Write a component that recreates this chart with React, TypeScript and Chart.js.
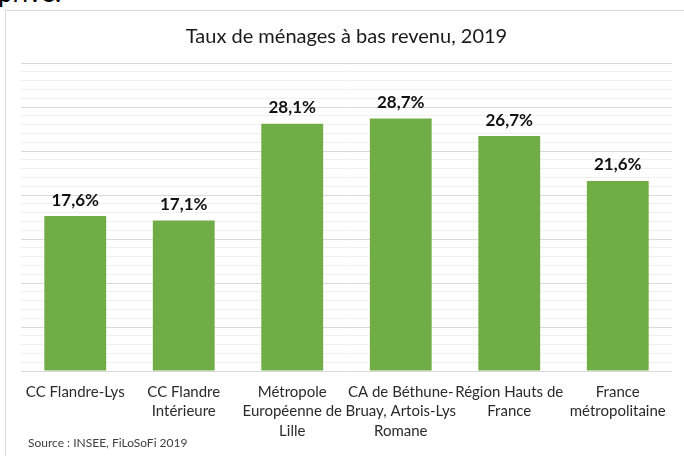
import React, { useEffect, useRef } from "react";
import { Chart, registerables } from "chart.js";

Chart.register(...registerables);

const TITLE = "Taux de ménages à bas revenu, 2019";
const SOURCE = "Source : INSEE, FiLoSoFi 2019";
const CATEGORIES: (string | string[])[] = [
  "CC Flandre-Lys",
  ["CC Flandre", "Intérieure"],
  ["Métropole", "Européenne de", "Lille"],
  ["CA de Béthune-", "Bruay, Artois-Lys", "Romane"],
  ["Région Hauts de", "France"],
  ["France", "métropolitaine"],
];
const VALUES = [17.6, 17.1, 28.1, 28.7, 26.7, 21.6];
const Y_MIN = 0;
const Y_MAX = 35;
const MINOR_STEP = 1;
const MAJOR_STEP = 5;

const FONT = "Lato, 'Open Sans', sans-serif";

const valueLabels = {
  id: "valueLabels",
  afterDatasetsDraw(chart: any) {
    const ctx = chart.ctx;
    const meta = chart.getDatasetMeta(0);
    ctx.save();
    ctx.font = `bold 17px ${FONT}`;
    ctx.fillStyle = "#111";
    ctx.textAlign = "center";
    ctx.textBaseline = "middle";
    meta.data.forEach((bar: any, i: number) => {
      const v = chart.data.datasets[0].data[i] as number;
      ctx.fillText(v.toFixed(1).replace(".", ",") + "%", bar.x, bar.y - 16);
    });
    ctx.restore();
  },
};

export default function App() {
  const ref = useRef<HTMLCanvasElement>(null);
  useEffect(() => {
    if (!ref.current) return;
    const chart = new Chart(ref.current, {
      type: "bar",
      data: {
        labels: CATEGORIES,
        datasets: [
          {
            data: VALUES,
            backgroundColor: "#70ad47",
            barPercentage: 0.57,
            categoryPercentage: 1,
          },
        ],
      },
      options: {
        animation: false,
        responsive: false,
        devicePixelRatio: 1,
        layout: { padding: { left: 21, right: 12, top: 0, bottom: 0 } },
        plugins: {
          legend: { display: false },
          tooltip: { enabled: false },
          title: {
            display: true,
            text: TITLE,
            color: "#1a1a1a",
            font: { family: FONT, size: 20, weight: "normal", lineHeight: 1.2 },
            padding: { top: 25, bottom: 14 },
          },
        },
        scales: {
          x: {
            grid: { display: false, drawTicks: false },
            border: { display: false },
            ticks: {
              color: "#2b2b2b",
              font: { family: FONT, size: 15, lineHeight: 1.3 },
              padding: 11,
              maxRotation: 0,
              autoSkip: false,
            },
            afterFit: (scale: any) => {
              scale.height = 85;
            },
          },
          y: {
            min: Y_MIN,
            max: Y_MAX,
            ticks: { display: false, stepSize: MINOR_STEP },
            border: { display: false },
            grid: {
              drawTicks: false,
              color: (c: any) =>
                c.tick && c.tick.value % MAJOR_STEP === 0 ? "#d9d9d9" : "#f0f0f0",
              lineWidth: 1,
            },
            afterFit: (scale: any) => {
              scale.width = 0;
            },
          },
        },
      },
      plugins: [valueLabels],
    });
    return () => chart.destroy();
  }, []);

  return (
    <div
      style={{
        position: "absolute",
        left: 0,
        top: 0,
        width: 684,
        height: 456,
        overflow: "hidden",
        background: "#fff",
      }}
    >
      <div
        style={{
          position: "absolute",
          left: -2,
          top: -23,
          fontFamily: FONT,
          fontSize: 26,
          color: "#000",
          lineHeight: "30px",
        }}
      >
        privé.
      </div>
      <div
        style={{
          position: "absolute",
          left: 5,
          top: 10,
          width: 700,
          height: 460,
          borderLeft: "1px solid #d9d9d9",
          borderTop: "1px solid #d9d9d9",
          background: "#fff",
        }}
      />
      <canvas
        ref={ref}
        width={684}
        height={456}
        style={{ position: "absolute", left: 0, top: 0, width: 684, height: 456 }}
      />
      <div
        style={{
          position: "absolute",
          left: 28,
          top: 435,
          fontFamily: FONT,
          fontSize: 12,
          color: "#404040",
          whiteSpace: "nowrap",
        }}
      >
        {SOURCE}
      </div>
    </div>
  );
}
